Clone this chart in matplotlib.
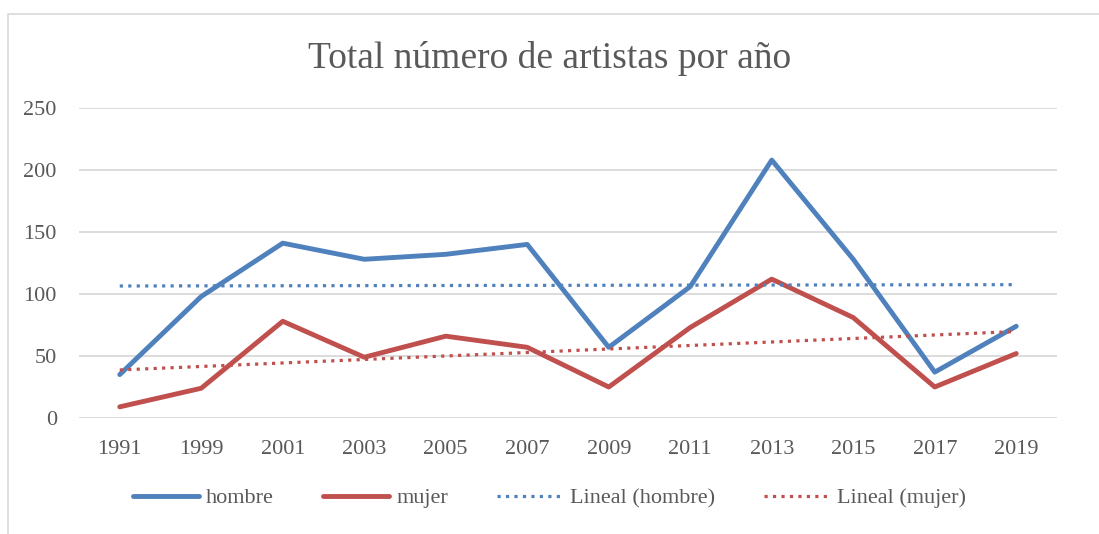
import numpy as np
import matplotlib.pyplot as plt
from matplotlib.patches import Rectangle

years = ['1991', '1999', '2001', '2003', '2005', '2007', '2009', '2011', '2013', '2015', '2017', '2019']
hombre = [35, 98, 141, 128, 132, 140, 57, 106, 208, 128, 37, 74]
mujer = [9, 24, 78, 49, 66, 57, 25, 73, 112, 81, 25, 52]

plt.rcParams['font.family'] = ['Liberation Serif', 'DejaVu Serif']
gray = '#595959'
blue = '#4F81BD'
red = '#C0504D'

fig = plt.figure(figsize=(10.99, 5.34), dpi=100)
# chart border (cropped at right and bottom)
fig.patches.append(Rectangle((8 / 1099, -0.1), 1.2, 1 - 14 / 534 + 0.1, transform=fig.transFigure,
                             fill=False, edgecolor='#D9D9D9', linewidth=1.2))

ax = fig.add_axes([79 / 1099, 1 - 418 / 534, 978 / 1099, 310 / 534])
x = np.arange(len(years))

# trend lines (linear fit)
fh = np.polyfit(x, hombre, 1)
fm = np.polyfit(x, mujer, 1)

ax.plot(x, hombre, color=blue, lw=3.5, label='hombre', solid_capstyle='round', zorder=3)
ax.plot(x, mujer, color=red, lw=3.5, label='mujer', solid_capstyle='round', zorder=3)
ax.plot(x, np.polyval(fh, x), color=blue, lw=2.3, ls=':', label='Lineal (hombre)', zorder=4)
ax.plot(x, np.polyval(fm, x), color=red, lw=2.3, ls=':', label='Lineal (mujer)', zorder=4)

ax.set_xlim(-0.5, len(years) - 0.5)
ax.set_ylim(0, 250)
ax.set_yticks(range(0, 251, 50))
ax.set_xticks(x)
ax.set_xticklabels(years)
ax.grid(axis='y', color='#D9D9D9', lw=1.3)
ax.set_axisbelow(True)
for s in ax.spines.values():
    s.set_visible(False)
ax.tick_params(length=0, labelsize=16, labelcolor=gray)
ax.tick_params(axis='x', pad=16)
ax.tick_params(axis='y', pad=16)

fig.text(0.5, 1 - 59 / 534, 'Total número de artistas por año', ha='center', va='center',
         fontsize=27, color=gray)

fig.legend(loc='center', bbox_to_anchor=(0.5, 1 - 498 / 534), ncol=4, frameon=False,
           fontsize=16, labelcolor=gray, handlelength=3, columnspacing=2.2, handletextpad=0.3)

fig.savefig('out.png', dpi=100)
